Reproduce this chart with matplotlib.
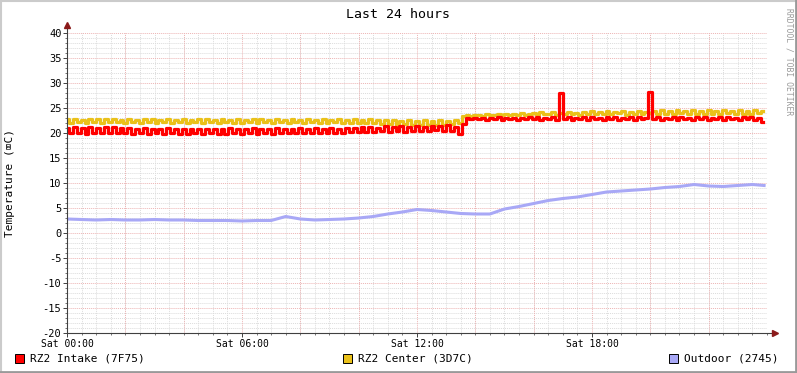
import numpy as np
import matplotlib
matplotlib.use("Agg")
import matplotlib.pyplot as plt
from matplotlib.patches import Rectangle
from matplotlib.lines import Line2D
from matplotlib.ticker import MultipleLocator

# --- data (hours since midnight, degrees C) ---
# intake / center sampled every 8 minutes
intake = [
    21.1, 20.0, 21.2, 20.1, 21.0, 19.9, 21.3, 20.1, 21.1, 20.0, 21.3, 20.1, 21.2, 20.0, 21.0,
    20.0, 21.0, 19.9, 20.8, 20.0, 21.0, 19.8, 20.9, 20.0, 20.8, 19.9, 21.0, 20.0, 20.9, 19.9,
    20.9, 19.9, 20.8, 20.0, 20.9, 19.8, 20.8, 20.0, 20.9, 19.9, 20.8, 19.9, 21.0, 20.0, 20.8,
    19.9, 20.9, 20.0, 21.0, 19.9, 20.8, 20.1, 20.9, 19.9, 21.0, 20.0, 20.9, 20.0, 20.8, 20.1,
    21.0, 20.0, 20.9, 20.1, 21.0, 20.0, 20.9, 20.1, 21.1, 20.0, 20.9, 20.1, 21.0, 20.2, 21.1,
    20.2, 21.2, 20.3, 21.3, 20.2, 21.1, 20.4, 21.4, 20.3, 21.3, 20.4, 21.4, 20.3, 21.2, 20.4,
    21.4, 20.5, 21.3, 20.4, 21.5, 20.6, 21.4, 20.5, 21.6, 20.4, 21.3, 19.9, 21.8, 23.1, 22.9,
    23.0, 22.8, 23.1, 22.7, 23.0, 22.9, 23.2, 22.6, 23.0, 22.8, 23.1, 22.6, 23.0, 22.9, 23.2,
    22.9, 23.2, 22.7, 23.1, 22.8, 23.3, 22.6, 28.1, 22.9, 23.2, 22.7, 23.1, 22.8, 23.3, 22.7,
    23.2, 22.8, 23.1, 22.6, 23.3, 22.8, 23.2, 22.7, 23.1, 22.9, 23.3, 22.7, 23.2, 22.8, 23.1,
    28.3, 22.8, 23.2, 22.7, 23.1, 22.9, 23.3, 22.6, 23.2, 22.8, 23.1, 22.7, 23.3, 22.8, 23.2,
    22.7, 23.1, 22.8, 23.3, 22.6, 23.2, 22.9, 23.1, 22.7, 23.3, 22.8, 23.2, 22.6, 23.0, 22.2,
]
center = [
    22.8, 22.1, 22.9, 22.2, 22.7, 22.1, 22.9, 22.2, 22.8, 22.1, 22.9, 22.3, 22.8, 22.2, 22.7,
    22.1, 22.8, 22.2, 22.7, 22.1, 22.9, 22.2, 22.8, 22.1, 22.7, 22.2, 22.8, 22.1, 22.7, 22.2,
    22.8, 22.1, 22.7, 22.2, 22.8, 22.1, 22.9, 22.2, 22.7, 22.1, 22.8, 22.2, 22.7, 22.1, 22.8,
    22.1, 22.7, 22.2, 22.8, 22.1, 22.9, 22.2, 22.7, 22.1, 22.8, 22.2, 22.7, 22.1, 22.8, 22.2,
    22.7, 22.1, 22.8, 22.2, 22.7, 22.0, 22.8, 22.1, 22.7, 22.2, 22.8, 22.1, 22.7, 22.0, 22.8,
    22.1, 22.7, 22.0, 22.8, 22.1, 22.6, 21.9, 22.7, 21.8, 22.6, 21.7, 22.5, 21.8, 22.6, 21.7,
    22.5, 21.6, 22.6, 21.7, 22.4, 21.6, 22.6, 21.7, 22.5, 21.8, 22.6, 22.0, 23.4, 23.6, 23.5,
    23.6, 23.7, 23.5, 23.8, 23.6, 23.7, 23.9, 23.6, 23.8, 23.7, 23.9, 23.6, 24.0, 23.7, 23.8,
    24.0, 23.7, 24.2, 23.8, 23.9, 24.3, 23.7, 24.1, 23.8, 24.2, 23.9, 24.0, 23.7, 24.3, 23.8,
    24.4, 23.8, 24.3, 23.9, 24.5, 23.8, 24.2, 24.0, 24.4, 23.7, 24.3, 23.9, 24.5, 23.8, 24.2,
    24.0, 24.5, 23.8, 24.6, 23.9, 24.4, 23.8, 24.7, 24.0, 24.5, 23.8, 24.6, 23.9, 24.4, 23.8,
    24.6, 23.9, 24.5, 23.8, 24.7, 24.0, 24.4, 23.8, 24.6, 23.9, 24.5, 23.8, 24.7, 24.1, 24.4,
]
fast_hours = np.arange(len(intake)) * 8 / 60.0

# outdoor every 30 minutes
outdoor_hours = [0.0, 0.5, 1.0, 1.5, 2.0, 2.5, 3.0, 3.5, 4.0, 4.5, 5.0, 5.5, 6.0, 6.5, 7.0,
                 7.5, 8.0, 8.5, 9.0, 9.5, 10.0, 10.5, 11.0, 11.5, 12.0, 12.5, 13.0, 13.5,
                 14.0, 14.5, 15.0, 15.5, 16.0, 16.5, 17.0, 17.5, 18.0, 18.5, 19.0, 19.5,
                 20.0, 20.5, 21.0, 21.5, 22.0, 22.5, 23.0, 23.5, 23.9]
outdoor = [2.8, 2.7, 2.6, 2.7, 2.6, 2.6, 2.7, 2.6, 2.6, 2.5, 2.5, 2.5, 2.4, 2.5, 2.5,
           3.3, 2.8, 2.6, 2.7, 2.8, 3.0, 3.3, 3.8, 4.2, 4.7, 4.5, 4.2, 3.9,
           3.8, 3.8, 4.8, 5.3, 5.9, 6.5, 6.9, 7.2, 7.7, 8.2, 8.4, 8.6,
           8.8, 9.1, 9.3, 9.7, 9.4, 9.3, 9.5, 9.7, 9.5]

xtick_pos = [0, 6, 12, 18]
xtick_labels = ["Sat 00:00", "Sat 06:00", "Sat 12:00", "Sat 18:00"]
legend_labels = ["RZ2 Intake (7F75)", "RZ2 Center (3D7C)", "Outdoor (2745)"]
colors = ["#FF0000", "#EAC11A", "#A8A8F6"]

W, H = 797, 373
mono = "DejaVu Sans Mono"

fig = plt.figure(figsize=(W / 100, H / 100), dpi=100)
fig.patch.set_facecolor("white")

def fx(x):
    return x / W

def fy(y):
    return 1 - y / H

# plot area: x 67..767, y 33..333
ax = fig.add_axes([fx(67), fy(333), 700 / W, 300 / H])
ax.set_xlim(0, 24)
ax.set_ylim(-20, 40)

ax.plot(outdoor_hours, outdoor, color=colors[2], lw=2.2, zorder=3)
ax.plot(fast_hours, center, color=colors[1], lw=2.3, drawstyle="steps-mid", zorder=4)
ax.plot(fast_hours, intake, color=colors[0], lw=2.3, drawstyle="steps-mid", zorder=5)

# grids
ax.xaxis.set_minor_locator(MultipleLocator(0.5))
ax.yaxis.set_minor_locator(MultipleLocator(1))
ax.grid(which="minor", color="#DCDCDC", lw=0.7, ls=(0, (1, 1)), zorder=1)
ax.grid(which="major", axis="y", color="#EDB4B4", lw=0.7, ls=(0, (1, 1)), zorder=2)
# red grid every 2 hours, labels every 6
for h in range(2, 24, 2):
    ax.axvline(h, color="#EDB4B4", lw=0.7, ls=(0, (1, 1)), zorder=2)

ax.set_xticks(xtick_pos)
ax.set_xticklabels(xtick_labels, fontfamily=mono, fontsize=7)
ax.set_yticks(range(-20, 41, 5))
ax.set_yticklabels([str(v) for v in range(-20, 41, 5)], fontfamily=mono, fontsize=7.5)
ax.tick_params(which="major", length=3, width=0.7, color="#404040", pad=1)
ax.tick_params(which="minor", length=1.5, width=0.5, color="#404040")

for s in ax.spines.values():
    s.set_visible(False)

# axes with arrows
ax.plot([0, 706 / 700], [0, 0], transform=ax.transAxes, color="#404040", lw=0.8, clip_on=False, zorder=6)
ax.plot([0, 0], [0, 306 / 300], transform=ax.transAxes, color="#404040", lw=0.8, clip_on=False, zorder=6)
ax.plot([708 / 700], [0], transform=ax.transAxes, marker=">", ms=4, color="#8B1A1A", clip_on=False, zorder=7)
ax.plot([0], [308 / 300], transform=ax.transAxes, marker="^", ms=4, color="#8B1A1A", clip_on=False, zorder=7)

# texts
fig.text(fx(398), fy(14), "Last 24 hours", fontfamily=mono, fontsize=9.5, ha="center", va="center")
fig.text(fx(10), fy(183), "Temperature (\u2327C)", fontfamily=[mono, "DejaVu Sans"], fontsize=8,
         rotation=90, ha="center", va="center")
fig.text(fx(789), fy(62), "RRDTOOL / TOBI OETIKER", fontfamily=mono, fontsize=5.8, color="#9A9A9A",
         rotation=270, ha="center", va="center")

# legend
legend_x = [15, 343, 669]
for lx, lab, c in zip(legend_x, legend_labels, colors):
    fig.patches.append(Rectangle((fx(lx), fy(363)), 9 / W, 9 / H, transform=fig.transFigure,
                                 facecolor=c, edgecolor="black", lw=0.7))
    fig.text(fx(lx + 15), fy(358.5), lab, fontfamily=mono, fontsize=8, ha="left", va="center")

# 3D border
fig.add_artist(Line2D([0, 1], [fy(0.5), fy(0.5)], transform=fig.transFigure, color="#CBCBCB", lw=1.5))
fig.add_artist(Line2D([fx(0.5), fx(0.5)], [0, 1], transform=fig.transFigure, color="#CBCBCB", lw=1.5))
fig.add_artist(Line2D([0, 1], [fy(372), fy(372)], transform=fig.transFigure, color="#999999", lw=2))
fig.add_artist(Line2D([fx(796), fx(796)], [0, 1], transform=fig.transFigure, color="#999999", lw=2))

fig.savefig("out.png", dpi=100)
